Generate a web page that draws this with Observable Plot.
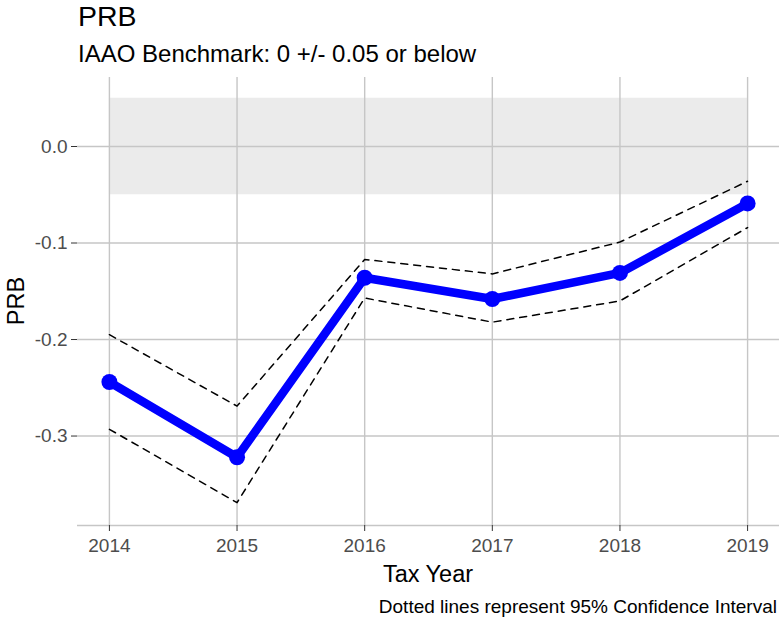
<!DOCTYPE html>
<html>
<head>
<meta charset="utf-8">
<script src="https://cdn.jsdelivr.net/npm/d3@7"></script>
<script src="https://cdn.jsdelivr.net/npm/@observablehq/plot@0.6"></script>
<style>
  html, body { margin: 0; padding: 0; background: #fff; }
  #chart { width: 779px; height: 618px; }
  #chart svg { font-family: "Liberation Sans", Arial, sans-serif; }
  #chart g[aria-label$="tick label"] { fill: #4D4D4D; }
  #chart g[aria-label="x-axis tick"], #chart g[aria-label="y-axis tick"] { stroke: #333333; }
</style>
</head>
<body>
<div id="chart"></div>
<script>
// ---- data ----
const years = [2014, 2015, 2016, 2017, 2018, 2019];
const prb = [-0.244, -0.322, -0.136, -0.158, -0.131, -0.059];
const ciUpper = [-0.195, -0.269, -0.117, -0.132, -0.099, -0.036];
const ciLower = [-0.293, -0.369, -0.157, -0.182, -0.160, -0.084];
const yTicks = [0, -0.1, -0.2, -0.3];
const benchmark = [-0.05, 0.05];

const titleText = "PRB";
const subtitleText = "IAAO Benchmark: 0 +/- 0.05 or below";
const xLabel = "Tax Year";
const yLabel = "PRB";
const captionText = "Dotted lines represent 95% Confidence Interval";

const rows = years.map((year, i) => ({year, prb: prb[i], upper: ciUpper[i], lower: ciLower[i]}));
const band = [{x1: years[0], x2: years[years.length - 1], y1: benchmark[0], y2: benchmark[1]}];

const yDomain = [-0.3927, 0.0715];
const xDomain = [2013.75, 2019.25];
const gridColor = "#C6C6C6";

const plot = Plot.plot({
  width: 779,
  height: 618,
  marginTop: 77,
  marginBottom: 93,
  marginLeft: 77,
  marginRight: 0,
  style: {background: "white", fontFamily: "Liberation Sans, Arial, sans-serif"},
  x: {domain: xDomain},
  y: {domain: yDomain},
  marks: [
    Plot.rect(band, {x1: "x1", x2: "x2", y1: "y1", y2: "y2", fill: "#EBEBEB"}),
    Plot.ruleY(yTicks, {stroke: gridColor, strokeWidth: 1.4}),
    Plot.ruleX(years, {stroke: gridColor, strokeWidth: 1.4}),
    Plot.ruleY([yDomain[0]], {stroke: gridColor, strokeWidth: 1.6}),
    Plot.axisX({ticks: years, tickFormat: d => String(d), tickSize: 6, tickPadding: 7, fontSize: 19, label: null}),
    Plot.axisY({ticks: yTicks, tickFormat: d => d.toFixed(1), tickSize: 6, tickPadding: 4, fontSize: 19, label: null}),
    Plot.line(rows, {x: "year", y: "upper", stroke: "black", strokeWidth: 1.5, strokeDasharray: "7,6"}),
    Plot.line(rows, {x: "year", y: "lower", stroke: "black", strokeWidth: 1.5, strokeDasharray: "7,6"}),
    Plot.line(rows, {x: "year", y: "prb", stroke: "#0000FF", strokeWidth: 8.5}),
    Plot.dot(rows, {x: "year", y: "prb", r: 8, fill: "#0000FF", stroke: "none"})
  ]
});

document.getElementById("chart").appendChild(plot);

// titles and captions as real text
const svg = d3.select(plot);
const font = "Liberation Sans, Arial, sans-serif";
svg.append("text").text(titleText)
  .attr("x", 78).attr("y", 26).attr("text-anchor", "start").attr("font-size", 28.5).attr("fill", "#000").attr("font-family", font);
svg.append("text").text(subtitleText)
  .attr("x", 78).attr("y", 62).attr("text-anchor", "start").attr("font-size", 24).attr("fill", "#000").attr("font-family", font);
svg.append("text").text(xLabel)
  .attr("x", 428).attr("y", 582).attr("text-anchor", "middle").attr("font-size", 23.5).attr("fill", "#000").attr("font-family", font);
svg.append("text").text(yLabel)
  .attr("transform", "translate(23.5,301) rotate(-90)").attr("text-anchor", "middle")
  .attr("font-size", 23.5).attr("fill", "#000").attr("font-family", font);
svg.append("text").text(captionText)
  .attr("x", 777).attr("y", 613).attr("text-anchor", "end").attr("font-size", 19).attr("fill", "#000").attr("font-family", font);
</script>
</body>
</html>
